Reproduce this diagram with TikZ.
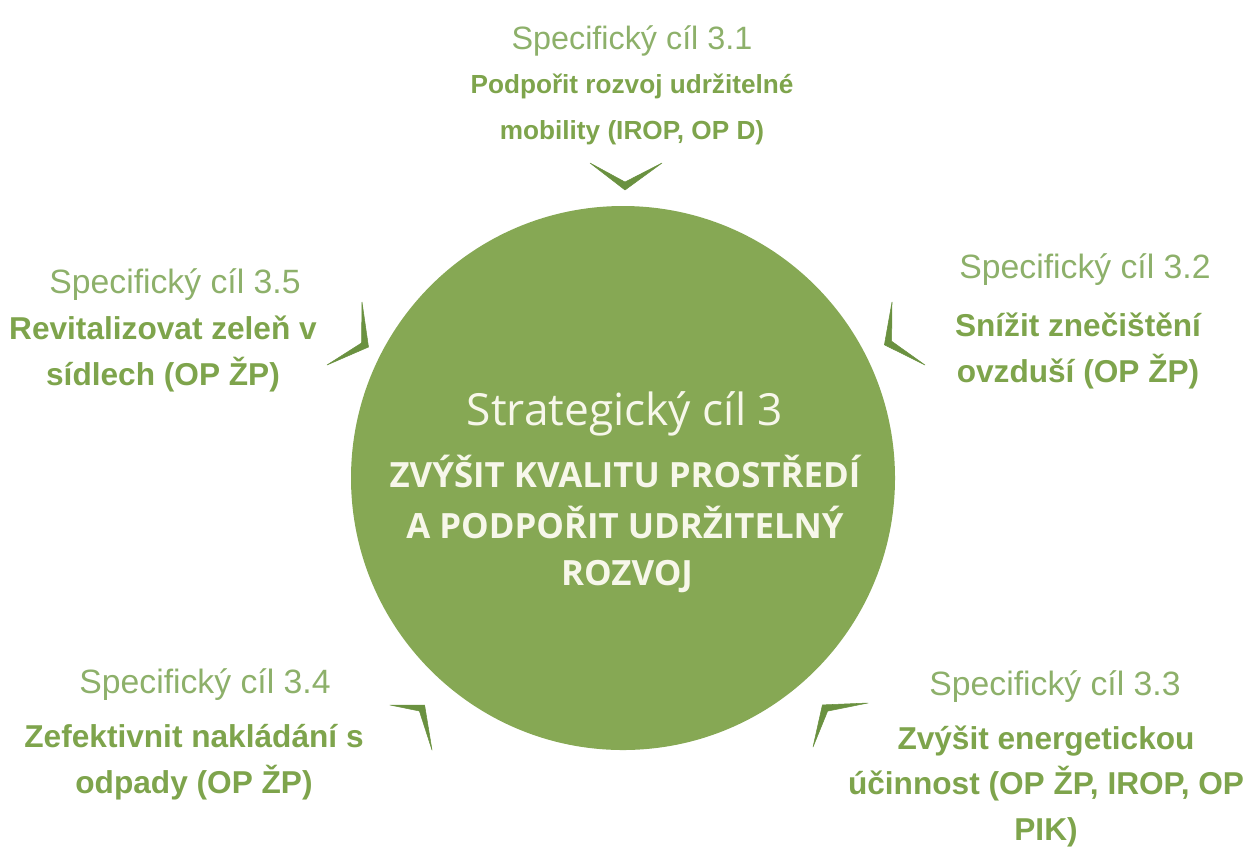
\documentclass[tikz,border=0pt]{standalone}
\usepackage{fontspec}
\setmainfont{Liberation Sans}
\newfontfamily\circlefont{Open Sans}
\usetikzlibrary{positioning}
\definecolor{goalgreen}{HTML}{86A854}
\definecolor{titlegreen}{HTML}{8DB06A}
\definecolor{boldgreen}{HTML}{7EA44C}
\definecolor{chevgreen}{HTML}{6A9140}
\definecolor{creamwhite}{HTML}{F7F7EA}
\tikzset{
  subtitle/.style={anchor=base, text=titlegreen, inner sep=0pt,
    font=\fontsize{19.2}{19.2}\selectfont},
  subgoal/.style={anchor=base, text=boldgreen, inner sep=0pt, align=center,
    font=\fontsize{18}{25.7}\selectfont\bfseries},
  chevron/.style={fill=chevgreen, draw=chevgreen, line width=0.3pt, line join=round},
  maintitle/.style={anchor=base, text=creamwhite, inner sep=0pt,
    font=\circlefont\fontsize{25.2}{25.2}\selectfont},
  mainline/.style={anchor=base, text=creamwhite, inner sep=0pt,
    font=\circlefont\fontsize{19.8}{19.8}\selectfont\bfseries},
}

\begin{document}
\begin{tikzpicture}[x=0.02cm, y=-0.02cm]
\useasboundingbox (0,0) rectangle (1253,850);
% central goal
\fill[goalgreen] (623,478) circle (272);
\node[maintitle] (stc) at (625,425) {Strategický cíl 3};
\node[mainline] (stc1) at (625,487) {ZVÝŠIT KVALITU PROSTŘEDÍ};
\node[mainline] (stc2) at (625,538) {A PODPOŘIT UDRŽITELNÝ};
\node[mainline] (stc3) at (627,585) {ROZVOJ};
% chevrons pointing to the circle
\filldraw[chevron] (590,163) -- (625,190) -- (662,163) -- (625,182) -- cycle;
\filldraw[chevron] (362,302) -- (368.5,347) -- (327,365) -- (361.5,343) -- cycle;
\filldraw[chevron] (892,302) -- (884.4,344.8) -- (925,365) -- (891.6,341.2) -- cycle;
\filldraw[chevron] (390,705) -- (424.6,705) -- (432,750) -- (419.4,711) -- cycle;
\filldraw[chevron] (868,703) -- (822.4,704.9) -- (813,747) -- (827.6,711.1) -- cycle;
% specific goal 3.1 (base = last line)
\node[subtitle, font=\fontsize{18.4}{18.4}\selectfont] (sc31) at (632,49) {Specifický cíl 3.1};
\node[subgoal, font=\fontsize{14.9}{25.7}\selectfont\bfseries] (sc31t) at (632,139)
  {Podpořit rozvoj udržitelné\\mobility (IROP, OP D)};
% specific goal 3.2
\node[subtitle] (sc32) at (1085,278) {Specifický cíl 3.2};
\node[subgoal] (sc32t) at (1078,382) {Snížit znečištění\\ovzduší (OP ŽP)};
% specific goal 3.3
\node[subtitle] (sc33) at (1055,695) {Specifický cíl 3.3};
\node[subgoal] (sc33t) at (1046,840) {Zvýšit energetickou\\účinnost (OP ŽP, IROP, OP\\PIK)};
% specific goal 3.4
\node[subtitle] (sc34) at (205,693) {Specifický cíl 3.4};
\node[subgoal] (sc34t) at (194,793) {Zefektivnit nakládání s\\odpady (OP ŽP)};
% specific goal 3.5
\node[subtitle] (sc35) at (175,293) {Specifický cíl 3.5};
\node[subgoal] (sc35t) at (163,385) {Revitalizovat zeleň v\\sídlech (OP ŽP)};
\end{tikzpicture}
\end{document}
